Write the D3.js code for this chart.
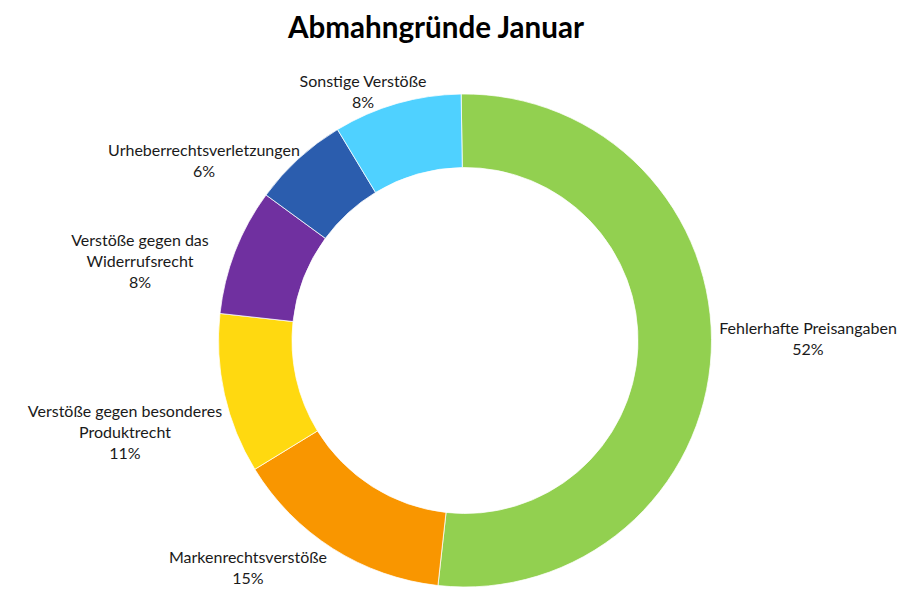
<!DOCTYPE html>
<html>
<head>
<meta charset="utf-8">
<script src="https://cdn.jsdelivr.net/npm/d3@7"></script>
<style>
  html, body { margin: 0; padding: 0; background: #fff; }
  svg { display: block; }
</style>
</head>
<body>
<svg id="chart" width="898" height="608"></svg>
<script>
// ---- data ----
const categories = [
  "Fehlerhafte Preisangaben",
  "Markenrechtsverstöße",
  "Verstöße gegen besonderes Produktrecht",
  "Verstöße gegen das Widerrufsrecht",
  "Urheberrechtsverletzungen",
  "Sonstige Verstöße"
];
const values = [52.0, 14.5, 10.5, 8.3, 6.3, 8.4];
const labelLines = [
  ["Fehlerhafte Preisangaben"],
  ["Markenrechtsverstöße"],
  ["Verstöße gegen besonderes", "Produktrecht"],
  ["Verstöße gegen das", "Widerrufsrecht"],
  ["Urheberrechtsverletzungen"],
  ["Sonstige Verstöße"]
];
const colors = ["#92D050", "#F99600", "#FFD910", "#7030A0", "#2B5DAE", "#4FD1FF"];
const title = "Abmahngründe Januar";

// ---- layout ----
const W = 898, H = 608;
const cx = 465, cy = 340.5, outerR = 246.5, innerR = 173;
const startAngle = -0.9 * Math.PI / 180;
// label anchor points (text block centre x, first line centre y)
const labelPos = [
  [808, 327], [248, 556], [125, 410], [140, 239], [204, 149], [363, 80]
];
const lineH = 21;

const svg = d3.select("#chart");

svg.append("text")
  .attr("x", 436).attr("y", 38)
  .attr("text-anchor", "middle")
  .attr("font-family", "Lato, 'Open Sans', sans-serif")
  .attr("font-weight", "bold")
  .attr("font-size", 29.6)
  .attr("fill", "#000")
  .text(title);

const pie = d3.pie().sort(null).value(d => d)
  .startAngle(startAngle).endAngle(startAngle + 2 * Math.PI);
const arc = d3.arc().innerRadius(innerR).outerRadius(outerR);

const g = svg.append("g").attr("transform", `translate(${cx},${cy})`);
g.selectAll("path").data(pie(values)).join("path")
  .attr("d", arc)
  .attr("fill", (d, i) => colors[i])
  .attr("stroke", "#fff")
  .attr("stroke-width", 0.75);

const total = d3.sum(values);
const lg = svg.append("g")
  .attr("font-family", "Lato, 'Open Sans', sans-serif")
  .attr("font-size", 16)
  .attr("fill", "#1a1a1a")
  .attr("text-anchor", "middle");

categories.forEach((c, i) => {
  const pct = Math.round(values[i] / total * 100 + 1e-9);
  const lines = labelLines[i].concat([pct + "%"]);
  const t = lg.append("text")
    .attr("x", labelPos[i][0])
    .attr("y", labelPos[i][1])
    .attr("dominant-baseline", "central");
  lines.forEach((ln, k) => {
    t.append("tspan")
      .attr("x", labelPos[i][0])
      .attr("dy", k === 0 ? 0 : lineH)
      .text(ln);
  });
});
</script>
</body>
</html>
